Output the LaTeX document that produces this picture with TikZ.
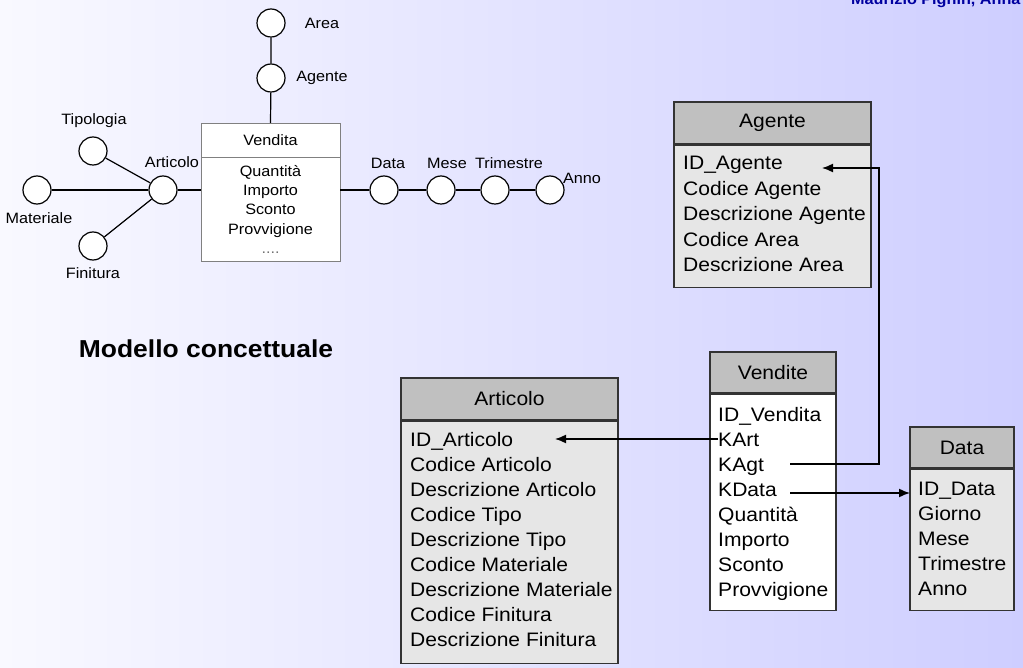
\documentclass[tikz,border=0pt]{standalone}
\usepackage{fontspec}
\setmainfont{Liberation Sans}[FakeStretch=1.08]
\usetikzlibrary{arrows.meta}
\definecolor{bgleft}{RGB}{249,249,255}
\definecolor{bgright}{RGB}{206,206,255}
\definecolor{hdrgray}{RGB}{192,192,192}
\definecolor{bodygray}{RGB}{230,230,230}
\definecolor{authorblue}{RGB}{0,0,160}
\begin{document}
\begin{tikzpicture}[x=1pt, y=-1pt,
        attr/.style={circle, draw=black, line width=1.2pt, fill=white, minimum size=28pt, inner sep=0pt},
        lbl/.style={font=\fontsize{15}{19.2}\selectfont, inner sep=0pt},
        hdr/.style={draw=black!80, line width=1.5pt, fill=hdrgray, font=\fontsize{19.5}{23}\selectfont, inner sep=0pt},
        tbl/.style={draw=black!80, line width=1.5pt, fill=bodygray, inner sep=0pt, anchor=north},
        row/.style={anchor=west, font=\fontsize{19.5}{23}\selectfont, inner sep=0pt, text height=14pt, text depth=0pt},
        link/.style={line width=1.5pt, -{Latex[length=11pt,width=9pt]}}]
                \useasboundingbox (0,0) rectangle (1023,668);
                \shade[left color=bgleft, right color=bgright] (0,0) rectangle (1023,668);
                \node[anchor=base west, text=authorblue, font=\bfseries\fontsize{15}{15}\selectfont, inner sep=0pt] (author) at (851,5) {Maurizio Pighin, Anna};

                \node[draw=black!50, fill=white, minimum width=139pt, minimum height=34pt, inner sep=0pt, lbl] (vhdr) at (270.5,140) {Vendita};
                \node[draw=black!50, fill=white, minimum width=139pt, minimum height=104pt, inner sep=0pt, anchor=north] (vbody) at (vhdr.south) {};
                \node[lbl, align=center] (vattr) at (vbody.center) {Quantità\\Importo\\Sconto\\Provvigione\\\textcolor{black!55}{....}};

                \node[attr] (areaC) at (271,23) {};
                \node[attr] (agtC) at (271,78) {};
                \node[attr] (artC) at (163,190) {};
                \node[attr] (tipC) at (93,151) {};
                \node[attr] (matC) at (37,190) {};
                \node[attr] (finC) at (93,246) {};
                \node[attr] (dataC) at (384,190) {};
                \node[attr] (meseC) at (441,190) {};
                \node[attr] (trimC) at (495,190) {};
                \node[attr] (annoC) at (550,190) {};
                \node[lbl] (areaL) at (322,23) {Area};
                \node[lbl] (agtL) at (322,78) {Agente};
                \node[lbl] (artL) at (172,162) {Articolo};
                \node[lbl] (tipL) at (94,121) {Tipologia};
                \node[lbl] (matL) at (39,218) {Materiale};
                \node[lbl] (finL) at (93,273) {Finitura};
                \node[lbl] (dataL) at (388,163) {Data};
                \node[lbl] (meseL) at (447,163) {Mese};
                \node[lbl] (trimL) at (509,163) {Trimestre};
                \node[lbl] (annoL) at (582,178) {Anno};
                \draw[line width=1.2pt] (areaC) -- (agtC) -- (vhdr.north);
                \draw[line width=1.2pt] (tipC) -- (artC);
                \draw[line width=1.2pt] (finC) -- (artC);
                \draw[line width=1.2pt] (matC) -- (artC) -- (artC -| vbody.west);
                \draw[line width=1.2pt] (dataC -| vbody.east) -- (dataC) -- (meseC) -- (trimC) -- (annoC);

                \node[font=\bfseries\fontsize{24.5}{28}\selectfont, inner sep=0pt] (title) at (206,349) {Modello concettuale};

                \node[hdr, minimum width=197pt, minimum height=42pt] (agH) at (772.5,123) {Agente};
                \node[tbl, minimum width=197pt, minimum height=142pt] (agB) at (agH.south) {};
                \foreach \t [count=\i] in {ID\_Agente, Codice Agente, Descrizione Agente, Codice Area, Descrizione Area}
                    \node[row] (ag\i) at (683,137.5+25.5*\i) {\t};

                \node[hdr, minimum width=126pt, minimum height=41pt] (veH) at (773,372.5) {Vendite};
                \node[tbl, fill=white, minimum width=126pt, minimum height=216pt] (veB) at (veH.south) {};
                \foreach \t [count=\i] in {ID\_Vendita, KArt, KAgt, KData, Quantità, Importo, Sconto, Provvigione}
                    \node[row] (v\i) at (718,389+25*\i) {\t};

                \node[hdr, minimum width=217pt, minimum height=42pt] (arH) at (509.5,399) {Articolo};
                \node[tbl, minimum width=217pt, minimum height=242pt] (arB) at (arH.south) {};
                \foreach \t [count=\i] in {ID\_Articolo, Codice Articolo, Descrizione Articolo, Codice Tipo, Descrizione Tipo, Codice Materiale, Descrizione Materiale, Codice Finitura, Descrizione Finitura}
                    \node[row] (ar\i) at (410,414+25*\i) {\t};

                \node[hdr, minimum width=104pt, minimum height=41pt] (daH) at (962,447.5) {Data};
                \node[tbl, minimum width=104pt, minimum height=141pt] (daB) at (daH.south) {};
                \foreach \t [count=\i] in {ID\_Data, Giorno, Mese, Trimestre, Anno}
                    \node[row] (da\i) at (918,463+25*\i) {\t};

                \draw[link] (v2.west) -- ([xshift=145pt]ar1.west);
                \draw[link] ([xshift=72pt]v3.west) -| ([xshift=196pt,yshift=-5pt]ag1.west) -- ([xshift=139pt,yshift=-5pt]ag1.west);
                \draw[link] ([xshift=72pt,yshift=-4pt]v4.west) -- ([xshift=-8pt,yshift=-5pt]da1.west);

            \end{tikzpicture}
\end{document}
